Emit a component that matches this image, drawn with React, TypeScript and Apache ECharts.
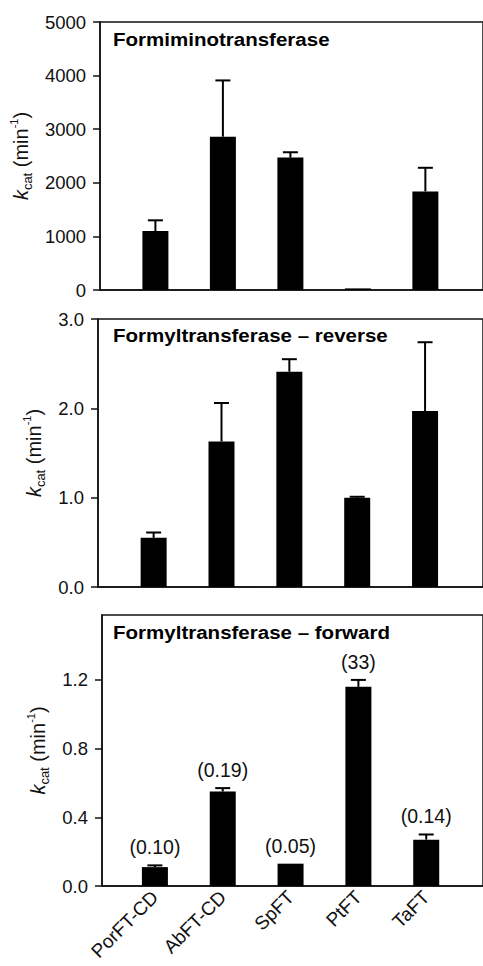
import React, { useEffect, useRef } from 'react';
import * as echarts from 'echarts';

const categories = ['PorFT-CD', 'AbFT-CD', 'SpFT', 'PtFT', 'TaFT'];
const formiminoValues = [1100, 2860, 2470, 30, 1840];
const formiminoErrTop = [1300, 3910, 2570, 30, 2280];
const reverseValues = [0.55, 1.63, 2.41, 1.0, 1.97];
const reverseErrTop = [0.61, 2.06, 2.55, 1.01, 2.74];
const forwardValues = [0.11, 0.55, 0.13, 1.16, 0.27];
const forwardErrTop = [0.12, 0.57, 0.13, 1.2, 0.3];
const forwardNotes = ['(0.10)', '(0.19)', '(0.05)', '(33)', '(0.14)'];
const panelTitles = ['Formiminotransferase', 'Formyltransferase \u2013 reverse', 'Formyltransferase \u2013 forward'];
const forwardTicks = [0, 0.4, 0.8, 1.2];
const categoryIndex = [0, 1, 2, 3, 4];

const FONT = '"Liberation Sans", Arial, Helvetica, sans-serif';
const INK = '#111';

const nameRich = {
  k: { fontStyle: 'italic', fontSize: 20, fontFamily: FONT, color: INK, lineHeight: 26, verticalAlign: 'middle' },
  s: { fontSize: 13, fontFamily: FONT, color: INK, lineHeight: 14, verticalAlign: 'bottom' },
  n: { fontSize: 20, fontFamily: FONT, color: INK, lineHeight: 26, verticalAlign: 'middle' },
  p: { fontSize: 11, fontFamily: FONT, color: INK, lineHeight: 14, verticalAlign: 'top' },
};
const yName = '{k|k}{s|cat}{n| (min}{p|-1}{n|)}';

function makeY(gridIndex: number, max: number, interval: number, gap: number, fmt: (v: number) => string, custom?: number[]) {
  const y: any = {
    type: 'value',
    gridIndex,
    min: 0,
    max,
    interval,
    name: yName,
    nameLocation: 'middle',
    nameRotate: 90,
    nameGap: gap,
    nameTextStyle: { rich: nameRich },
    axisLine: { show: true, onZero: false, lineStyle: { color: INK, width: 1.5 } },
    axisTick: { show: true, inside: false, length: 7, lineStyle: { color: INK, width: 1.5 } },
    axisLabel: { show: true, fontSize: 18.5, fontFamily: FONT, color: INK, margin: 14, formatter: fmt },
    splitLine: { show: false },
  };
  if (custom) {
    y.axisTick.customValues = custom;
    y.axisLabel.customValues = custom;
  }
  return y;
}

function makeX(gridIndex: number, min: number, max: number, labels: boolean) {
  return {
    type: 'value',
    gridIndex,
    min,
    max,
    axisLine: { show: true, onZero: false, lineStyle: { color: INK, width: 1.5 } },
    axisTick: { show: false },
    splitLine: { show: false },
    axisLabel: labels
      ? {
          show: true,
          customValues: categoryIndex,
          formatter: (v: number) => categories[Math.round(v)] ?? '',
          rotate: 45,
          fontSize: 19,
          fontFamily: FONT,
          color: INK,
          margin: 8,
        }
      : { show: false },
  };
}

function barSeries(idx: number, vals: number[]) {
  return {
    type: 'bar',
    xAxisIndex: idx,
    yAxisIndex: idx,
    data: vals.map((v, i) => [i, v]),
    barWidth: 26,
    itemStyle: { color: '#000' },
    z: 2,
  };
}

function errSeries(idx: number, vals: number[], errs: number[], notes?: string[]) {
  return {
    type: 'custom',
    xAxisIndex: idx,
    yAxisIndex: idx,
    data: vals.map((v, i) => [i, v, errs[i]]),
    encode: { x: 0, y: [1, 2] },
    z: 3,
    renderItem: (params: any, api: any) => {
      const i = api.value(0);
      const v = api.value(1);
      const e = api.value(2);
      const p0 = api.coord([i, v]);
      const p1 = api.coord([i, e]);
      const children: any[] = [];
      if (p0[1] - p1[1] > 0.4) {
        children.push({
          type: 'line',
          shape: { x1: p0[0], y1: p0[1], x2: p1[0], y2: p1[1] },
          style: { stroke: '#000', lineWidth: 2 },
        });
        children.push({
          type: 'line',
          shape: { x1: p1[0] - 7.5, y1: p1[1], x2: p1[0] + 7.5, y2: p1[1] },
          style: { stroke: '#000', lineWidth: 2 },
        });
      }
      if (notes) {
        children.push({
          type: 'text',
          x: p1[0],
          y: p1[1] - 18,
          style: {
            text: notes[params.dataIndex],
            fontSize: 19.5,
            fontFamily: FONT,
            fill: INK,
            align: 'center',
            verticalAlign: 'middle',
          },
        });
      }
      return { type: 'group', children };
    },
  };
}

function titleText(text: string, x: number, y: number) {
  return {
    type: 'text',
    x,
    y,
    scaleX: 1.08,
    style: {
      text,
      fontSize: 19,
      fontWeight: 'bold',
      fontFamily: FONT,
      fill: '#000',
      align: 'left',
      verticalAlign: 'middle',
    },
    z: 10,
  };
}

export default function App() {
  const ref = useRef<HTMLDivElement>(null);
  useEffect(() => {
    document.body.style.margin = '0';
    if (!ref.current) return;
    const chart = echarts.init(ref.current, null, { renderer: 'svg' });
    const gridBase = { show: true, borderColor: INK, borderWidth: 1.5, backgroundColor: 'transparent' };
    chart.setOption({
      animation: false,
      backgroundColor: '#fff',
      grid: [
        { ...gridBase, left: 98, top: 22, width: 400, height: 268 },
        { ...gridBase, left: 98, top: 319, width: 400, height: 268 },
        { ...gridBase, left: 102, top: 615, width: 396, height: 271 },
      ],
      xAxis: [
        makeX(0, -0.82, -0.82 + 400 / 70.5, false),
        makeX(1, -0.82, -0.82 + 400 / 70.5, false),
        makeX(2, -0.78, -0.78 + 396 / 70.5, true),
      ],
      yAxis: [
        makeY(0, 5000, 1000, 63, (v) => String(v)),
        makeY(1, 3, 1, 42, (v) => v.toFixed(1)),
        makeY(2, 1.578, 0.4, 44, (v) => v.toFixed(1), forwardTicks),
      ],
      series: [
        barSeries(0, formiminoValues),
        errSeries(0, formiminoValues, formiminoErrTop),
        barSeries(1, reverseValues),
        errSeries(1, reverseValues, reverseErrTop),
        barSeries(2, forwardValues),
        errSeries(2, forwardValues, forwardErrTop, forwardNotes),
      ],
      graphic: [
        titleText(panelTitles[0], 113, 39),
        titleText(panelTitles[1], 113, 335),
        titleText(panelTitles[2], 113, 632),
      ],
    });
    return () => chart.dispose();
  }, []);
  return <div ref={ref} style={{ width: 483, height: 966 }} />;
}
